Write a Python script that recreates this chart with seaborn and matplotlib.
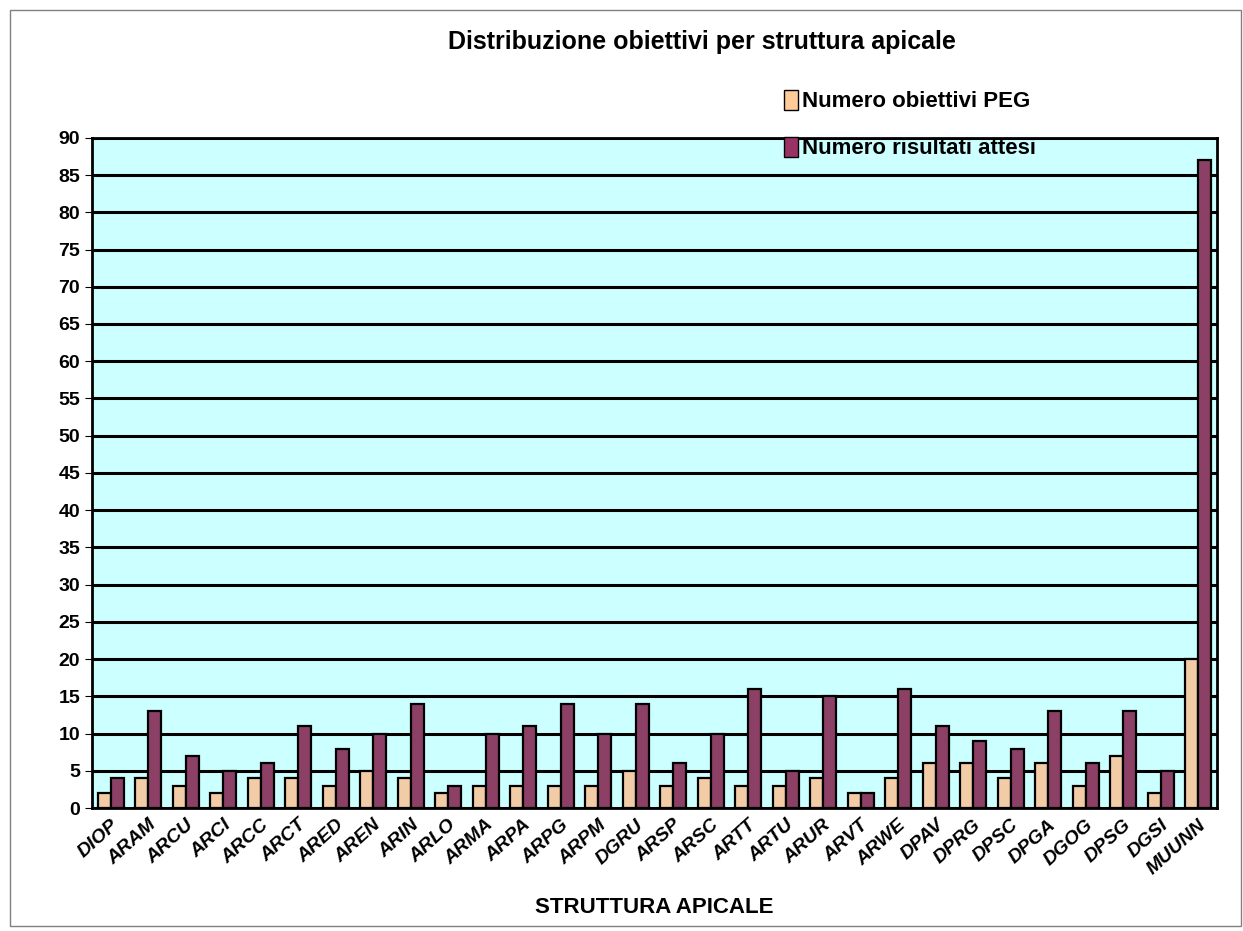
# grafico distribuzione obiettivi per struttura apicale

import pandas as pd
import matplotlib.pyplot as plt
import seaborn as sns

strutture = ['DIOP', 'ARAM', 'ARCU', 'ARCI', 'ARCC', 'ARCT', 'ARED', 'AREN', 'ARIN', 'ARLO',
             'ARMA', 'ARPA', 'ARPG', 'ARPM', 'DGRU', 'ARSP', 'ARSC', 'ARTT', 'ARTU', 'ARUR',
             'ARVT', 'ARWE', 'DPAV', 'DPRG', 'DPSC', 'DPGA', 'DGOG', 'DPSG', 'DGSI', 'MUUNN']
obiettivi_peg = [2, 4, 3, 2, 4, 4, 3, 5, 4, 2,
                 3, 3, 3, 3, 5, 3, 4, 3, 3, 4,
                 2, 4, 6, 6, 4, 6, 3, 7, 2, 20]
risultati_attesi = [4, 13, 7, 5, 6, 11, 8, 10, 14, 3,
                    10, 11, 14, 10, 14, 6, 10, 16, 5, 15,
                    2, 16, 11, 9, 8, 13, 6, 13, 5, 87]
serie = ['Numero obiettivi PEG', 'Numero risultati attesi']
colori = ['#FFCC99', '#993366']

df = pd.DataFrame({'struttura': strutture, serie[0]: obiettivi_peg, serie[1]: risultati_attesi})
df = df.melt(id_vars='struttura', var_name='serie', value_name='valore')

sns.set_style('white')
plt.rcParams['font.family'] = ['Liberation Sans', 'DejaVu Sans']
plt.rcParams['text.color'] = 'black'
plt.rcParams['axes.labelcolor'] = 'black'
plt.rcParams['xtick.color'] = 'black'
plt.rcParams['ytick.color'] = 'black'

fig = plt.figure(figsize=(12.43, 9.31), dpi=100)
ax = fig.add_axes([0.074, 0.132, 0.905, 0.72])

#cornice esterna
fig.patches.append(plt.Rectangle((0.008, 0.005), 0.99, 0.984, transform=fig.transFigure,
                                 fill=False, edgecolor='#808080', linewidth=1))

sns.barplot(data=df, x='struttura', y='valore', hue='serie', palette=colori,
            width=0.7, edgecolor='black', linewidth=1.6, ax=ax, legend=False, zorder=3)

ax.set_facecolor('#CCFFFF')
ax.set_ylim(0, 90)
ax.set_yticks(range(0, 91, 5))
ax.set_xlim(-0.5, len(strutture) - 0.5)
ax.yaxis.grid(True, color='black', linewidth=2.2, zorder=0)
ax.set_axisbelow(True)
for s in ax.spines.values():
    s.set_color('black')
    s.set_linewidth(2)
ax.tick_params(axis='y', labelsize=14, length=5, left=True)
ax.tick_params(axis='x', labelsize=14, length=0, pad=6)
for t in ax.get_yticklabels():
    t.set_fontweight('bold')
plt.setp(ax.get_xticklabels(), rotation=42, ha='right', rotation_mode='anchor',
         fontweight='bold', fontstyle='italic')

ax.set_xlabel('STRUTTURA APICALE', fontsize=16, fontweight='bold', labelpad=14)
ax.set_ylabel('')
fig.text(0.565, 0.955, 'Distribuzione obiettivi per struttura apicale', ha='center', va='center',
         fontsize=18, fontweight='bold')

#legenda
handles = [plt.Rectangle((0, 0), 1, 1, facecolor=c, edgecolor='black', linewidth=1) for c in colori]
fig.legend(handles, serie, loc='upper left', bbox_to_anchor=(0.615, 0.925), frameon=False,
           prop={'size': 16, 'weight': 'bold'}, handlelength=0.6, handleheight=1.0,
           handletextpad=0.2, labelspacing=1.1)

plt.savefig('out.png', dpi=100)
